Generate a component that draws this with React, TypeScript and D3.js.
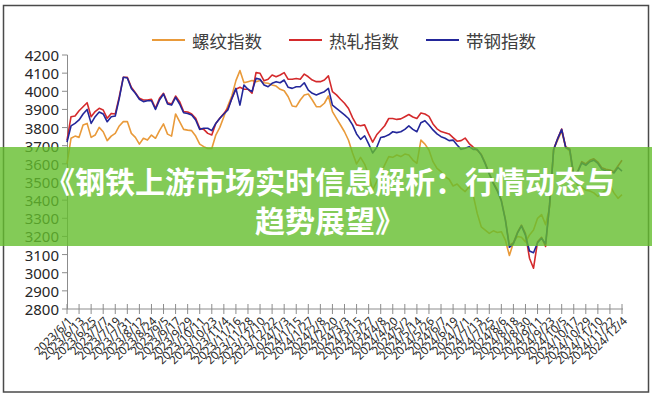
import React from 'react';
import * as d3 from 'd3';

// Sampled every 4 days starting 2023-06-01
const START_DATE = '2023-06-01';
const STEP_DAYS = 4;

const rebarIndex = [
  3600, 3741, 3753, 3746, 3814, 3823, 3746, 3759, 3801, 3777,
  3728, 3753, 3768, 3809, 3833, 3833, 3768, 3746, 3709, 3741,
  3731, 3759, 3741, 3783, 3820, 3764, 3753, 3875, 3833, 3790,
  3786, 3783, 3753, 3709, 3695, 3685, 3685, 3759, 3801, 3860,
  3920, 3975, 4059, 4114, 4047, 4053, 4059, 4053, 4059, 4047,
  4044, 4035, 4029, 4011, 4003, 3970, 3919, 3915, 3952, 3980,
  3985, 3952, 3915, 3915, 3934, 3974, 3888, 3851, 3814, 3777,
  3730, 3660, 3600, 3636, 3599, 3539, 3456, 3502, 3548, 3594,
  3640, 3636, 3649, 3640, 3654, 3649, 3621, 3603, 3731, 3709,
  3676, 3612, 3575, 3557, 3529, 3515, 3478, 3489, 3465, 3447,
  3474, 3428, 3327, 3253, 3235, 3217, 3231, 3222, 3226, 3180,
  3095, 3165, 3200, 3195, 3170, 3208, 3235, 3300, 3320, 3265,
  3360, 3680, 3730, 3780, 3690, 3670, 3520, 3480, 3470, 3455,
  3450, 3440, 3420, 3440, 3455, 3480, 3440, 3410, 3430,
];

const hotRolledIndex = [
  3730, 3860, 3864, 3893, 3915, 3937, 3860, 3888, 3906, 3897,
  3851, 3878, 3875, 3970, 4077, 4077, 4022, 3992, 3961, 3952,
  3952, 3956, 3906, 3961, 3989, 3937, 3930, 3974, 3943, 3888,
  3886, 3875, 3851, 3796, 3790, 3768, 3759, 3823, 3851, 3878,
  3906, 3961, 4011, 4022, 4011, 4011, 3989, 4103, 4099, 4058,
  4066, 4090, 4080, 4090, 4103, 4066, 4066, 4070, 4066, 4095,
  4080, 4062, 4053, 4053, 4062, 4085, 3998, 3980, 3956, 3934,
  3905, 3855, 3815, 3810, 3815, 3765, 3720, 3760, 3785, 3810,
  3850, 3850, 3845, 3848, 3860, 3872, 3858, 3850, 3880, 3875,
  3862, 3820, 3793, 3778, 3772, 3765, 3745, 3725, 3728, 3742,
  3712, 3692, 3675, 3652, 3605, 3548, 3497, 3456, 3400, 3295,
  3150, 3165, 3222, 3262, 3215, 3080, 3025, 3170, 3195, 3145,
  3380, 3680, 3740, 3792, 3693, 3683, 3540, 3560, 3612, 3600,
  3620, 3628, 3610, 3578, 3570, 3566, 3557, 3588, 3620,
];

const stripIndex = [
  3720, 3809, 3823, 3842, 3875, 3900, 3823, 3860, 3886, 3875,
  3832, 3860, 3864, 3961, 4077, 4073, 4016, 3989, 3956, 3943,
  3948, 3948, 3900, 3952, 3985, 3930, 3924, 3967, 3930, 3882,
  3878, 3869, 3842, 3790, 3796, 3796, 3783, 3823, 3851, 3875,
  3897, 3961, 4016, 3924, 4035, 4011, 3998, 4071, 4066, 4035,
  4025, 4044, 4053, 4047, 4062, 4022, 4016, 4025, 4025, 4047,
  4007, 3989, 3980, 3989, 3998, 4016, 3924, 3906, 3888, 3870,
  3850, 3815, 3765, 3735, 3755, 3710, 3660, 3690, 3745, 3750,
  3760, 3777, 3772, 3777, 3790, 3809, 3790, 3777, 3827, 3838,
  3814, 3787, 3765, 3750, 3741, 3728, 3731, 3704, 3680, 3686,
  3695, 3680, 3680, 3648, 3600, 3543, 3492, 3450, 3395, 3290,
  3140, 3160, 3218, 3258, 3205, 3120, 3110, 3165, 3190, 3160,
  3375, 3678, 3738, 3790, 3690, 3678, 3535, 3555, 3605, 3592,
  3612, 3620, 3602, 3570, 3562, 3560, 3550, 3580, 3560,
];

const tickLabels = [
  '2023/6/1', '2023/6/13', '2023/6/25', '2023/7/7', '2023/7/19', '2023/7/31',
  '2023/8/12', '2023/8/24', '2023/9/5', '2023/9/17', '2023/9/29', '2023/10/11',
  '2023/10/23', '2023/11/4', '2023/11/16', '2023/11/28', '2023/12/10', '2023/12/22',
  '2024/1/3', '2024/1/15', '2024/1/27', '2024/2/8', '2024/2/20', '2024/3/3',
  '2024/3/15', '2024/3/27', '2024/4/8', '2024/4/20', '2024/5/2', '2024/5/14',
  '2024/5/26', '2024/6/7', '2024/6/19', '2024/7/1', '2024/7/13', '2024/7/25',
  '2024/8/6', '2024/8/18', '2024/8/30', '2024/9/11', '2024/9/23', '2024/10/5',
  '2024/10/17', '2024/10/29', '2024/11/10', '2024/11/22', '2024/12/4',
];

const yTicks = [2800, 2900, 3000, 3100, 3200, 3300, 3400, 3500, 3600, 3700, 3800, 3900, 4000, 4100, 4200];

const seriesNames = ['螺纹指数', '热轧指数', '带钢指数'];
const titleLines = ['《钢铁上游市场实时信息解析：行情动态与', '趋势展望》'];

export default function App() {
  const W = 652;
  const H = 397;
  const parseData = d3.timeParse('%Y-%m-%d');
  const parseTick = d3.timeParse('%Y/%m/%d');
  const start = parseData(START_DATE) as Date;
  const dates = rebarIndex.map((_, i) => d3.timeDay.offset(start, i * STEP_DAYS));
  const tickDates = tickLabels.map((s) => parseTick(s) as Date);

  const x = d3.scaleTime().domain([tickDates[0], tickDates[tickDates.length - 1]]).range([67, 622]);
  const y = d3.scaleLinear().domain([2800, 4200]).range([309, 55]);

  const line = d3
    .line<number>()
    .x((_, i) => x(dates[i]))
    .y((d) => y(d));

  const colors = ['#E99A3A', '#D42A2C', '#23279A'];
  const series = [rebarIndex, hotRolledIndex, stripIndex];
  const legendX = [152, 289, 426];
  const font = '"Noto Sans", "Noto Sans CJK SC", sans-serif';
  const axisColor = '#8c8c8c';

  return (
    <div style={{ position: 'absolute', left: 0, top: 0 }}>
      <svg width={W} height={H} style={{ display: 'block', background: '#fff' }}>
        <rect x={0} y={0} width={W} height={H} fill="#fff" />
        <rect x={3.5} y={5.5} width={645} height={386.5} fill="none" stroke="#4a4a4a" strokeWidth={1.5} />

        {/* legend */}
        {seriesNames.map((name, i) => (
          <g key={name}>
            <line x1={legendX[i]} x2={legendX[i] + 33} y1={40} y2={40} stroke={colors[i]} strokeWidth={1.8} />
            <text
              x={legendX[i] + 40}
              y={40}
              dominantBaseline="central"
              fontSize={17.5}
              fill="#404040"
              fontFamily='"Noto Sans CJK SC", sans-serif'
            >
              {name}
            </text>
          </g>
        ))}

        {/* y axis */}
        <line x1={67.5} x2={67.5} y1={y(4200)} y2={y(2800)} stroke={axisColor} strokeWidth={1} />
        {yTicks.map((t) => (
          <g key={t}>
            <line x1={62} x2={67.5} y1={y(t)} y2={y(t)} stroke={axisColor} strokeWidth={1} />
            <text
              x={59}
              y={y(t)}
              textAnchor="end"
              dominantBaseline="central"
              fontSize={15}
              fill="#262626"
              fontFamily={font}
            >
              {t}
            </text>
          </g>
        ))}

        {/* x axis */}
        <line x1={67} x2={623} y1={y(2800)} y2={y(2800)} stroke={axisColor} strokeWidth={1} />
        {tickDates.map((d, i) => (
          <g key={tickLabels[i]}>
            <line x1={x(d)} x2={x(d)} y1={y(2800) - 5} y2={y(2800) + 5} stroke={axisColor} strokeWidth={1} />
            <text
              transform={`translate(${x(d) + 3},${y(2800) + 10}) rotate(-45)`}
              textAnchor="end"
              dy="0.35em"
              fontSize={11.5}
              fill="#262626"
              fontFamily={font}
            >
              {tickLabels[i]}
            </text>
          </g>
        ))}

        {/* series */}
        {series.map((s, i) => (
          <path key={seriesNames[i]} d={line(s) || ''} fill="none" stroke={colors[i]} strokeWidth={1.6} strokeLinejoin="round" />
        ))}

        {/* banner */}
        <rect x={0} y={147} width={W} height={99} fill="rgb(100,190,45)" opacity={0.8} />
        {titleLines.map((t, i) => (
          <text
            key={i}
            x={330}
            y={180 + i * 38.5}
            textAnchor="middle"
            dominantBaseline="central"
            fontSize={30}
            fontWeight={700}
            fill="#ffffff"
            fontFamily='"Noto Sans CJK SC", sans-serif'
          >
            {t}
          </text>
        ))}
      </svg>
    </div>
  );
}
